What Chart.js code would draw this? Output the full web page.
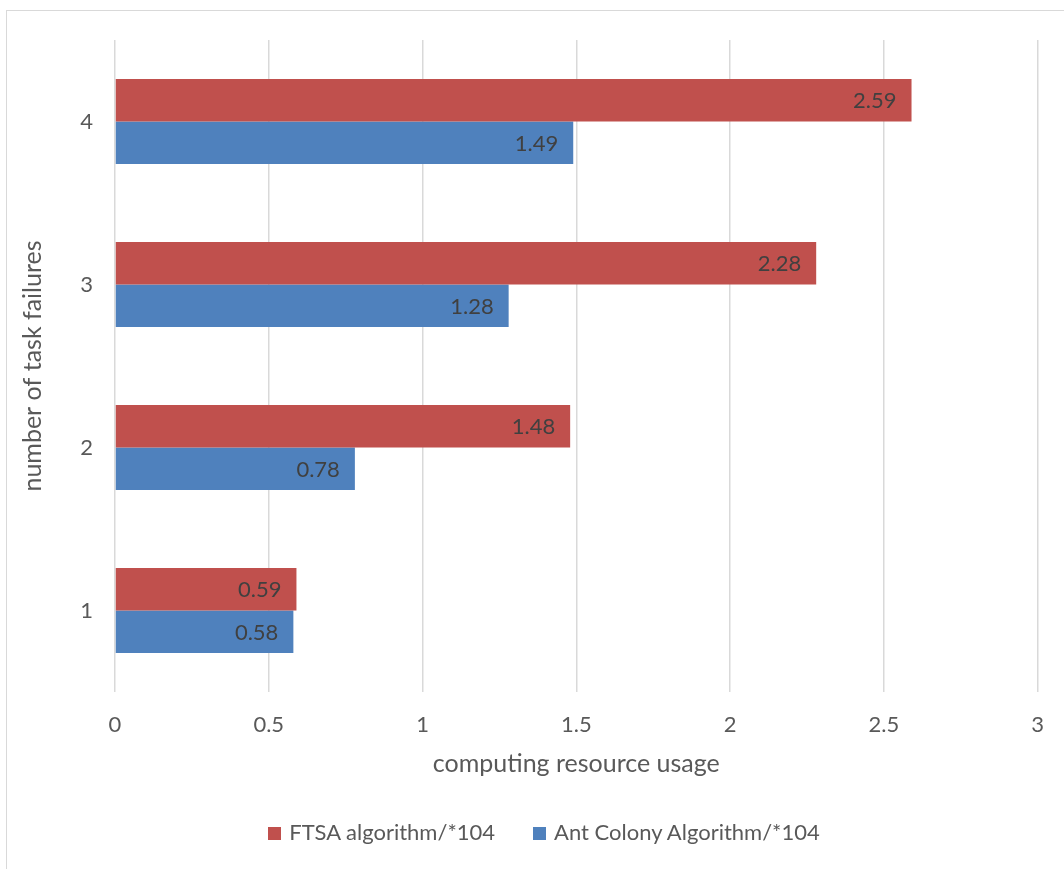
<!DOCTYPE html>
<html>
<head>
<meta charset="utf-8">
<script src="https://cdn.jsdelivr.net/npm/chart.js@4"></script>
<style>
  html, body { margin: 0; padding: 0; background: #fff; }
  #wrap { position: relative; width: 1064px; height: 869px; overflow: hidden; }
  #frame { position: absolute; left: 6px; top: 10px; width: 1100px; height: 900px; border: 1.5px solid #d9d9d9; box-sizing: border-box; }
  canvas { position: absolute; left: 0; top: 0; }
  #legend { position: absolute; left: 0; width: 1088px; top: 818px; text-align: center; font-family: Lato, "Open Sans", sans-serif; font-size: 22px; color: #595959; white-space: nowrap; }
  #legend span.item { display: inline-block; margin: 0 19px; }
  #legend span.box { display: inline-block; width: 13px; height: 13px; margin-right: 8px; vertical-align: 0px; }
</style>
</head>
<body>
<div id="wrap">
  <div id="frame"></div>
  <canvas id="c" width="1064" height="869"></canvas>
  <div id="legend"></div>
</div>
<script>
const categories = ['4', '3', '2', '1'];
const ftsaValues = [2.59, 2.28, 1.48, 0.59];
const antValues = [1.49, 1.28, 0.78, 0.58];
const seriesNames = ['FTSA algorithm/*104', 'Ant Colony Algorithm/*104'];
const seriesColors = ['#C0504D', '#4F81BD'];
const xTicks = [0, 0.5, 1, 1.5, 2, 2.5, 3];

const FONT = 'Lato, "Open Sans", sans-serif';

const valueLabels = {
  id: 'valueLabels',
  afterDatasetsDraw(chart) {
    const ctx = chart.ctx;
    ctx.save();
    ctx.font = '22px ' + FONT;
    ctx.fillStyle = '#404040';
    ctx.textAlign = 'right';
    ctx.textBaseline = 'middle';
    chart.data.datasets.forEach((ds, di) => {
      const meta = chart.getDatasetMeta(di);
      meta.data.forEach((bar, i) => {
        ctx.fillText(String(ds.data[i]), bar.x - 15, bar.y + 1);
      });
    });
    ctx.restore();
  }
};

const chart = new Chart(document.getElementById('c'), {
  type: 'bar',
  data: {
    labels: categories,
    datasets: [
      { label: seriesNames[0], data: ftsaValues, backgroundColor: seriesColors[0], borderWidth: 0 },
      { label: seriesNames[1], data: antValues, backgroundColor: seriesColors[1], borderWidth: 0 }
    ]
  },
  options: {
    indexAxis: 'y',
    responsive: false,
    animation: false,
    devicePixelRatio: 1,
    categoryPercentage: 0.52,
    barPercentage: 1,
    layout: { padding: { top: 40, right: 17, bottom: 56, left: 0 } },
    scales: {
      x: {
        min: 0, max: 3,
        afterBuildTicks(scale) { scale.ticks = xTicks.map(v => ({ value: v })); },
        afterFit(scale) { scale.height = 121; },
        grid: { color: '#d9d9d9', lineWidth: 1.5, drawTicks: false },
        border: { display: false },
        ticks: { color: '#595959', font: { family: FONT, size: 22 }, padding: 20,
                 callback: (v) => String(v) },
        title: { display: true, text: 'computing resource usage', color: '#595959',
                 font: { family: FONT, size: 25 }, padding: { top: 0, bottom: 34 } }
      },
      y: {
        afterFit(scale) { scale.width = 115; },
        grid: { display: false, drawTicks: false },
        border: { display: false },
        ticks: { color: '#595959', font: { family: FONT, size: 22 }, padding: 22 },
        title: { display: true, text: 'number of task failures', color: '#595959',
                 font: { family: FONT, size: 25 }, padding: { top: 18, bottom: 0 } }
      }
    },
    plugins: {
      legend: { display: false },
      tooltip: { enabled: false }
    }
  },
  plugins: [valueLabels]
});

const legend = document.getElementById('legend');
chart.data.datasets.forEach((ds) => {
  const item = document.createElement('span');
  item.className = 'item';
  const box = document.createElement('span');
  box.className = 'box';
  box.style.background = ds.backgroundColor;
  item.appendChild(box);
  item.appendChild(document.createTextNode(ds.label));
  legend.appendChild(item);
});
</script>
</body>
</html>
